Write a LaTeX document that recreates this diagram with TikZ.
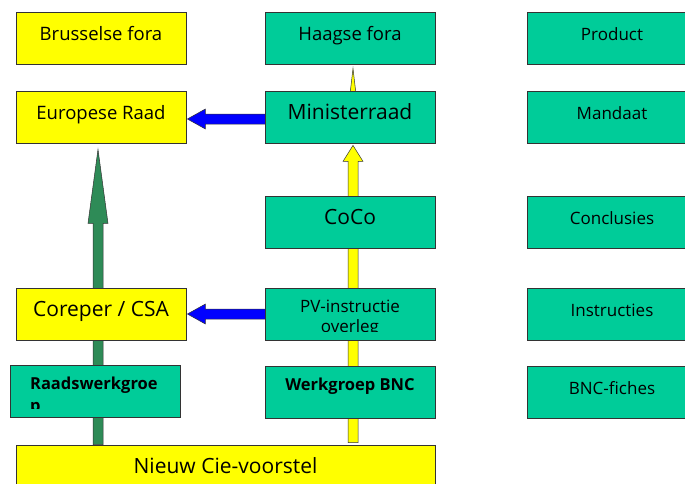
\documentclass[tikz,border=0pt]{standalone}
\usepackage{fontspec}
\setmainfont{Open Sans}
\usetikzlibrary{calc,backgrounds}

\definecolor{boxyellow}{RGB}{255,255,0}
\definecolor{boxteal}{RGB}{0,204,153}
\definecolor{arrowgreen}{RGB}{46,139,87}

\begin{document}
\begin{tikzpicture}[x=1pt, y=-1pt,
    box/.style={rectangle, draw=black!80, line width=0.8pt, minimum width=170pt, minimum height=52pt, inner sep=0pt, text height=12pt, text depth=8pt},
    ybox/.style={box, fill=boxyellow},
    tbox/.style={box, fill=boxteal},
    big/.style={font=\fontsize{21}{25}\selectfont},
    mid/.style={font=\fontsize{18.5}{22}\selectfont},
    small/.style={font=\fontsize{17}{20}\selectfont},
    boldsmall/.style={font=\fontsize{16.5}{20}\selectfont\bfseries},
    fat/.style={draw=black!80, line width=0.5pt}
]
\useasboundingbox (0,0) rectangle (685,483);
\clip (0,0) rectangle (685,483);

% left column
\node[ybox, mid] (bf) at (101,38) {Brusselse fora};
\node[ybox, mid] (er) at (101,117) {Europese Raad};
\node[ybox, big] (cor) at (101,314) {Coreper / CSA};
\node[tbox] (rwg) at (95,391) {};
\node[ybox, big, minimum width=419pt] (nieuw) at (225.5,471) {Nieuw Cie-voorstel};

% middle column
\node[tbox, mid] (hf) at (350,38) {Haagse fora};
\node[tbox, big] (mr) at (350,117) {Ministerraad};
\node[tbox, big] (coco) at (350,222) {CoCo};
\node[tbox] (pv) at (350,314) {};
\node[tbox, boldsmall, text height=8pt, text depth=12pt] (wbnc) at (350,392) {Werkgroep BNC};

% right column
\node[tbox, small] (product) at (612,38) {Product};
\node[tbox, small] (mandaat) at (612,117) {Mandaat};
\node[tbox, small] (concl) at (612,222) {Conclusies};
\node[tbox, small] (instr) at (612,314) {Instructies};
\node[tbox, small] (fiches) at (612,392) {BNC-fiches};

% text cut off by its box
\begin{scope}
\clip (pv.north west) rectangle ($(pv.east)+(0,17)$);
\node[small, anchor=base] (pvline1) at ($(pv.center)+(0,-2)$) {PV-instructie};
\node[small, anchor=base] (pvline2) at ($(pv.center)+(0,18)$) {overleg};
\end{scope}
\begin{scope}
\clip (rwg.north west) rectangle ($(rwg.east)+(0,17)$);
\node[boldsmall, anchor=base west] (rwgline1) at ($(rwg.west)+(17,-2)$) {Raadswerkgroe};
\node[boldsmall, anchor=base west] (rwgline2) at ($(rwg.west)+(17,20)$) {p};
\end{scope}

% foot points of the upward arrows
\coordinate (gfoot) at (er.south |- nieuw.north);
\coordinate (yfoot) at (mr.south |- nieuw.north);
\coordinate (hfoot) at (hf.south |- mr.center);

% block arrows behind the boxes
\begin{scope}[on background layer]
\draw[fat, fill=arrowgreen] ($(er.south)+(-8,80)$) -- ($(er.south)+(-13,80)$) -- ($(er.south)+(-3,6)$)
    -- ($(er.south)+(7,80)$) -- ($(er.south)+(2,80)$) -- ($(gfoot)+(2,0)$) -- ($(gfoot)+(-8,0)$) -- cycle;
\draw[fat, fill=boxyellow] ($(mr.south)+(-2,18)$) -- ($(mr.south)+(-7,18)$) -- ($(mr.south)+(3,2)$)
    -- ($(mr.south)+(13,18)$) -- ($(mr.south)+(8,18)$) -- ($(yfoot)+(8,-2)$) -- ($(yfoot)+(-2,-2)$) -- cycle;
\draw[fat, fill=boxyellow] ($(hf.south)+(-2,64)$) -- ($(hf.south)+(-4,64)$) -- ($(hf.south)+(3,4)$)
    -- ($(hf.south)+(10,64)$) -- ($(hf.south)+(8,64)$) -- ($(hfoot)+(8,0)$) -- ($(hfoot)+(-2,0)$) -- cycle;
\draw[fat, fill=blue] ($(mr.west)+(2,-3)$) -- ($(er.east)+(19,-3)$) -- ($(er.east)+(19,-8)$)
    -- ($(er.east)+(1,2)$) -- ($(er.east)+(19,12)$) -- ($(er.east)+(19,7)$) -- ($(mr.west)+(2,7)$) -- cycle;
\draw[fat, fill=blue] ($(pv.west)+(2,-5)$) -- ($(cor.east)+(19,-5)$) -- ($(cor.east)+(19,-10)$)
    -- ($(cor.east)+(1,0)$) -- ($(cor.east)+(19,10)$) -- ($(cor.east)+(19,5)$) -- ($(pv.west)+(2,5)$) -- cycle;
\end{scope}
\end{tikzpicture}
\end{document}
